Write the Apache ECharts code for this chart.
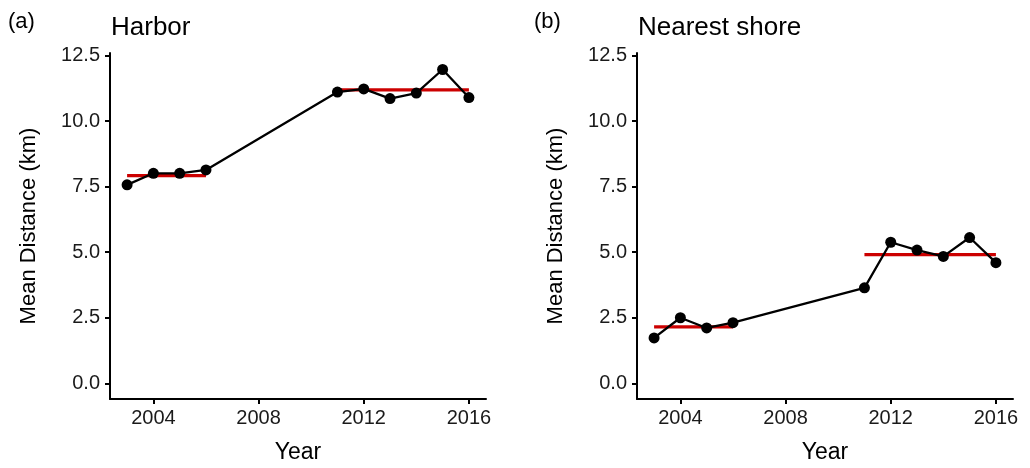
<!DOCTYPE html>
<html>
<head>
<meta charset="utf-8">
<script src="https://cdn.jsdelivr.net/npm/echarts@6/dist/echarts.min.js"></script>
<style>
  html, body { margin: 0; padding: 0; background: #fff; }
  #chart { width: 1030px; height: 468px; }
</style>
</head>
<body>
<div id="chart"></div>
<script>
// Survey years and mean distances (km)
const years = [2003, 2004, 2005, 2006, 2011, 2012, 2013, 2014, 2015, 2016];
const harbor = [7.57, 8.01, 8.01, 8.14, 11.11, 11.23, 10.86, 11.07, 11.97, 10.90];
const nearestShore = [1.73, 2.50, 2.11, 2.31, 3.64, 5.38, 5.08, 4.84, 5.56, 4.60];

// Period means: [start year, end year, mean]
const harborPeriods = [[2003, 2006, 7.92], [2011, 2016, 11.19]];
const shorePeriods = [[2003, 2006, 2.15], [2011, 2016, 4.91]];

const xTicks = [2004, 2008, 2012, 2016];
const yTicks = [0, 2.5, 5, 7.5, 10, 12.5];

const panelTags = ['(a)', '(b)'];
const panelTitles = ['Harbor', 'Nearest shore'];
const xTitle = 'Year';
const yTitle = 'Mean Distance (km)';

const FONT = '"Liberation Sans", Arial, Helvetica, sans-serif';
const INK = '#000';

const grids = [
  { left: 110, right: 544, top: 53, bottom: 69, outerBoundsMode: 'none' },
  { left: 637, right: 17, top: 53, bottom: 69, outerBoundsMode: 'none' }
];

function xAxisFor(i) {
  return {
    type: 'value', gridIndex: i, min: 2002.35, max: 2016.65,
    splitLine: { show: false },
    axisLine: { show: true, onZero: false, lineStyle: { color: INK, width: 2 } },
    axisTick: { show: true, length: 5, lineStyle: { color: INK, width: 2 }, customValues: xTicks },
    axisLabel: {
      customValues: xTicks, margin: 9, color: '#1a1a1a', fontSize: 20, fontFamily: FONT,
      formatter: v => String(v)
    },
    name: xTitle, nameLocation: 'middle', nameGap: 42,
    nameTextStyle: { color: INK, fontSize: 23, fontFamily: FONT }
  };
}

function yAxisFor(i) {
  return {
    type: 'value', gridIndex: i, min: -0.6, max: 12.6,
    splitLine: { show: false },
    axisLine: { show: true, onZero: false, lineStyle: { color: INK, width: 2 } },
    axisTick: { show: true, length: 5, lineStyle: { color: INK, width: 2 }, customValues: yTicks },
    axisLabel: {
      customValues: yTicks, margin: 10, color: '#1a1a1a', fontSize: 20, fontFamily: FONT,
      formatter: v => Number(v).toFixed(1)
    },
    name: yTitle, nameLocation: 'middle', nameGap: 70,
    nameTextStyle: { color: INK, fontSize: 22, fontFamily: FONT }
  };
}

function pointSeries(i, values) {
  return {
    type: 'line', xAxisIndex: i, yAxisIndex: i, z: 3,
    data: years.map((y, k) => [y, values[k]]),
    symbol: 'circle', symbolSize: 11,
    lineStyle: { color: INK, width: 2.3 },
    itemStyle: { color: INK },
    silent: true, animation: false
  };
}

function periodSeries(i, periods) {
  return periods.map(p => ({
    type: 'line', xAxisIndex: i, yAxisIndex: i, z: 2,
    data: [[p[0], p[2]], [p[1], p[2]]],
    symbol: 'none',
    lineStyle: { color: '#cc0000', width: 3.2 },
    silent: true, animation: false
  }));
}

const titleStyle = size => ({ fontSize: size, fontWeight: 'normal', color: INK, fontFamily: FONT });

const chart = echarts.init(document.getElementById('chart'), null, { renderer: 'canvas' });
chart.setOption({
  backgroundColor: '#fff',
  animation: false,
  title: [
    { text: panelTags[0], left: 3, top: 6, textStyle: titleStyle(22) },
    { text: panelTitles[0], left: 106, top: 10, textStyle: titleStyle(26) },
    { text: panelTags[1], left: 529, top: 6, textStyle: titleStyle(22) },
    { text: panelTitles[1], left: 633, top: 10, textStyle: titleStyle(26) }
  ],
  grid: grids,
  xAxis: [xAxisFor(0), xAxisFor(1)],
  yAxis: [yAxisFor(0), yAxisFor(1)],
  series: [
    ...periodSeries(0, harborPeriods),
    pointSeries(0, harbor),
    ...periodSeries(1, shorePeriods),
    pointSeries(1, nearestShore)
  ]
});
</script>
</body>
</html>
